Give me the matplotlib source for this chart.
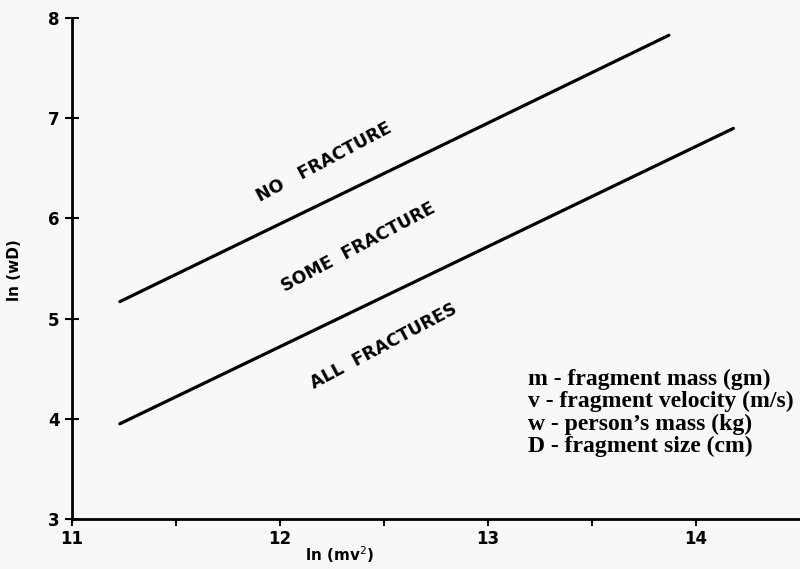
import numpy as np
import matplotlib
matplotlib.use('Agg')
import matplotlib.pyplot as plt

# boundary lines, ln(mv^2) vs ln(wD)
upper_x = [11.23, 13.87]
upper_y = [5.17, 7.83]
lower_x = [11.23, 14.18]
lower_y = [3.95, 6.90]

regions = ['NO   FRACTURE', 'SOME  FRACTURE', 'ALL  FRACTURES']
region_x = [12.21, 12.375, 12.5]
region_y = [6.56, 5.71, 4.72]

key_lines = ['m - fragment mass (gm)',
             'v - fragment velocity (m/s)',
             'w - person\u2019s mass (kg)',
             'D - fragment size (cm)']

xticks = [11, 12, 13, 14]
yticks = [3, 4, 5, 6, 7, 8]

bg = '#f8f8f8'
fig = plt.figure(figsize=(8, 5.69), dpi=100, facecolor=bg)
ax = fig.add_axes([0.09, 0.088, 0.91, 0.88], facecolor=bg)

ax.plot(upper_x, upper_y, color='k', lw=2.3, solid_capstyle='round')
ax.plot(lower_x, lower_y, color='k', lw=2.3, solid_capstyle='round')

for t, x, y in zip(regions, region_x, region_y):
    ax.text(x, y, t, rotation=28, ha='center', va='center',
            fontsize=12.5, fontweight='bold', family='DejaVu Sans')

ax.text(13.19, 4.5, '\n'.join(key_lines), ha='left', va='top',
        fontsize=17, fontweight='bold', family='Liberation Serif',
        linespacing=1.07)

ax.set_xlim(11, 14.5)
ax.set_ylim(3, 8)
ax.set_xticks(xticks)
ax.set_xticks(np.arange(11.5, 14.5, 1.0), minor=True)
ax.set_yticks(yticks)
ax.set_xticklabels(['11', '12', '13', '14'], fontsize=12, fontweight='bold')
ax.set_yticklabels([str(v) for v in yticks], fontsize=12, fontweight='bold')

ax.tick_params(axis='x', which='both', direction='out', length=5, width=1.5, pad=3)
ax.tick_params(axis='y', direction='inout', length=10, width=1.5, pad=4)

for s in ['top', 'right']:
    ax.spines[s].set_visible(False)
for s in ['left', 'bottom']:
    ax.spines[s].set_linewidth(2)

ax.set_xlabel('ln (mv$^2$)', fontsize=11, fontweight='bold')
ax.set_ylabel('ln (wD)', fontsize=11, fontweight='bold')
ax.xaxis.set_label_coords(0.368, -0.05)
ax.yaxis.set_label_coords(-0.069, 0.497)

fig.savefig('out.png', dpi=100, facecolor=bg)
